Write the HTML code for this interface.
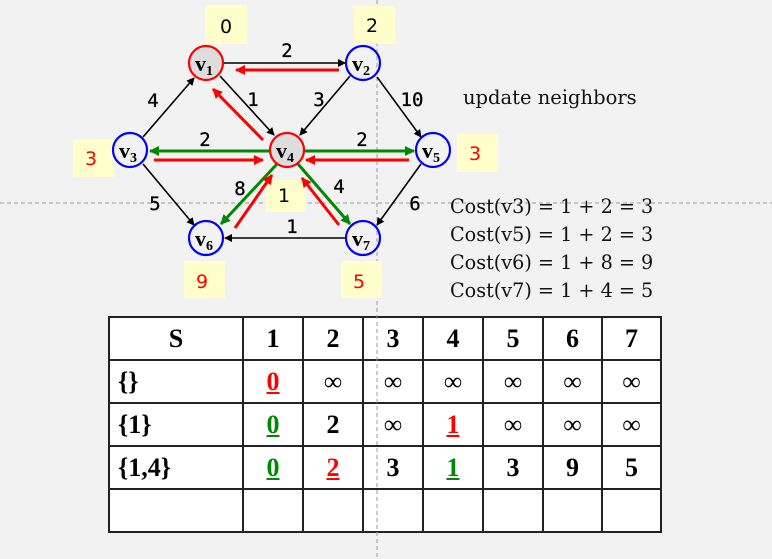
<!DOCTYPE html>
<html><head><style>
body{margin:0;background:#f2f2f2;width:772px;height:559px;overflow:hidden;position:relative;font-family:"Liberation Serif",serif}
svg{position:absolute;left:0;top:0}
table{position:absolute;left:108px;top:316px;border-collapse:collapse;background:#fff;table-layout:fixed;width:552px}
tr{height:43px}
td{border:2px solid #222;padding:0;text-align:center;font-weight:bold;font-size:26px;font-family:"Liberation Serif",serif}
td.s{text-align:left;padding-left:8px}
.r{color:#f00;text-decoration:underline}.g{color:#080;text-decoration:underline}
.inf{font-weight:normal;font-size:26px}
.txt{position:absolute;font-family:"DejaVu Serif",serif;font-size:19.2px;color:#111;white-space:nowrap}
</style></head><body>
<table>
<colgroup><col style="width:134px"><col style="width:60px"><col style="width:60px"><col style="width:60px"><col style="width:60px"><col style="width:60px"><col style="width:59px"><col style="width:59px"></colgroup>
<tr><td>S</td><td>1</td><td>2</td><td>3</td><td>4</td><td>5</td><td>6</td><td>7</td></tr>
<tr><td class="s">{}</td><td><span class="r">0</span></td><td class="inf">∞</td><td class="inf">∞</td><td class="inf">∞</td><td class="inf">∞</td><td class="inf">∞</td><td class="inf">∞</td></tr>
<tr><td class="s">{1}</td><td><span class="g">0</span></td><td>2</td><td class="inf">∞</td><td><span class="r">1</span></td><td class="inf">∞</td><td class="inf">∞</td><td class="inf">∞</td></tr>
<tr><td class="s">{1,4}</td><td><span class="g">0</span></td><td><span class="r">2</span></td><td>3</td><td><span class="g">1</span></td><td>3</td><td>9</td><td>5</td></tr>
<tr><td class="s"></td><td></td><td></td><td></td><td></td><td></td><td></td><td></td></tr>
</table>
<svg width="772" height="559" viewBox="0 0 772 559">
<defs>
<marker id="ak" markerWidth="8" markerHeight="8" refX="7" refY="4" orient="auto" markerUnits="userSpaceOnUse"><path d="M0,0L8,4L0,8z" fill="#000"/></marker>
<marker id="ar" markerWidth="10" markerHeight="10" refX="9" refY="5" orient="auto" markerUnits="userSpaceOnUse"><path d="M0,0L10,5L0,10z" fill="#f00"/></marker>
<marker id="ag" markerWidth="10" markerHeight="10" refX="9" refY="5" orient="auto" markerUnits="userSpaceOnUse"><path d="M0,0L10,5L0,10z" fill="#080"/></marker>
</defs>
<line x1="377" y1="0" x2="377" y2="559" stroke="#999" stroke-dasharray="4,3"/>
<line x1="0" y1="203" x2="772" y2="203" stroke="#999" stroke-dasharray="4,3"/>
<g fill="#ffffcc">
<rect x="205" y="5" width="42" height="39"/><rect x="354" y="6" width="41" height="38"/>
<rect x="73" y="139" width="41" height="38"/><rect x="457" y="134" width="41" height="38"/>
<rect x="266" y="180" width="40" height="32"/><rect x="184" y="261" width="41" height="37"/>
<rect x="341" y="261" width="41" height="37"/>
</g>
<g font-family="DejaVu Sans,sans-serif" font-size="19" text-anchor="middle">
<g fill="#000"><text x="226" y="33">0</text><text x="372" y="32">2</text></g>
<text x="91" y="165" fill="#f00">3</text><text x="475" y="160" fill="#f00">3</text>
<text x="284" y="202">1</text><text x="202" y="288" fill="#f00">9</text><text x="359" y="288" fill="#f00">5</text>
</g>
<g font-family="DejaVu Sans Mono,monospace" font-size="19" text-anchor="middle" stroke="#000" stroke-width="0.3">
<text x="287" y="57">2</text><text x="253" y="106">1</text><text x="319" y="106">3</text><text x="412" y="106">10</text>
<text x="153" y="107">4</text><text x="205" y="146">2</text><text x="362" y="146">2</text>
<text x="155" y="210">5</text><text x="240" y="195">8</text><text x="339" y="193">4</text><text x="415" y="210">6</text><text x="292" y="233">1</text>
</g>
<g stroke="#000" stroke-width="1.6" marker-end="url(#ak)">
<line x1="224" y1="63" x2="345" y2="63"/>
<line x1="220" y1="76" x2="274" y2="135"/>
<line x1="350" y1="76" x2="300" y2="135"/>
<line x1="377" y1="77" x2="421" y2="137"/>
<line x1="143" y1="137" x2="194" y2="78"/>
<line x1="143" y1="164" x2="194" y2="225"/>
<line x1="421" y1="164" x2="377" y2="225"/>
<line x1="345" y1="238" x2="225" y2="238"/>
</g>
<g stroke="#080" stroke-width="3" marker-end="url(#ag)">
<line x1="269" y1="151" x2="150" y2="151"/>
<line x1="305" y1="151" x2="414" y2="151"/>
<line x1="277" y1="164" x2="221" y2="224"/>
<line x1="298" y1="164" x2="350" y2="224"/>
</g>
<g stroke="#f00" stroke-width="3" marker-end="url(#ar)">
<line x1="339" y1="70" x2="236" y2="70"/>
<line x1="263" y1="140" x2="213" y2="89"/>
<line x1="154" y1="160" x2="263" y2="160"/>
<line x1="409" y1="160" x2="306" y2="160"/>
<line x1="235" y1="228" x2="272" y2="175"/>
<line x1="339" y1="225" x2="302" y2="178"/>
</g>
<g stroke-width="2.2">
<circle cx="206" cy="63" r="17" fill="#ddd" stroke="#f00"/>
<circle cx="363" cy="63" r="17" fill="none" stroke="#00f"/>
<circle cx="130" cy="150" r="17" fill="none" stroke="#00f"/>
<circle cx="287" cy="150" r="17" fill="#ddd" stroke="#f00"/>
<circle cx="433" cy="150" r="17" fill="none" stroke="#00f"/>
<circle cx="206" cy="238" r="17" fill="none" stroke="#00f"/>
<circle cx="363" cy="238" r="17" fill="none" stroke="#00f"/>
</g>
<g font-family="Liberation Serif,serif" font-weight="bold" font-size="22">
<text x="195" y="71">v<tspan font-size="14" dy="4">1</tspan></text>
<text x="352" y="71">v<tspan font-size="14" dy="4">2</tspan></text>
<text x="119" y="158">v<tspan font-size="14" dy="4">3</tspan></text>
<text x="276" y="158">v<tspan font-size="14" dy="4">4</tspan></text>
<text x="422" y="158">v<tspan font-size="14" dy="4">5</tspan></text>
<text x="195" y="246">v<tspan font-size="14" dy="4">6</tspan></text>
<text x="352" y="246">v<tspan font-size="14" dy="4">7</tspan></text>
</g>
</svg>
<div class="txt" style="left:463px;top:86px;font-size:19.5px">update neighbors</div>
<div class="txt" style="left:450px;top:195px">Cost(v3) = 1 + 2 = 3</div>
<div class="txt" style="left:450px;top:223px">Cost(v5) = 1 + 2 = 3</div>
<div class="txt" style="left:450px;top:251px">Cost(v6) = 1 + 8 = 9</div>
<div class="txt" style="left:450px;top:279px">Cost(v7) = 1 + 4 = 5</div>
</body></html>
